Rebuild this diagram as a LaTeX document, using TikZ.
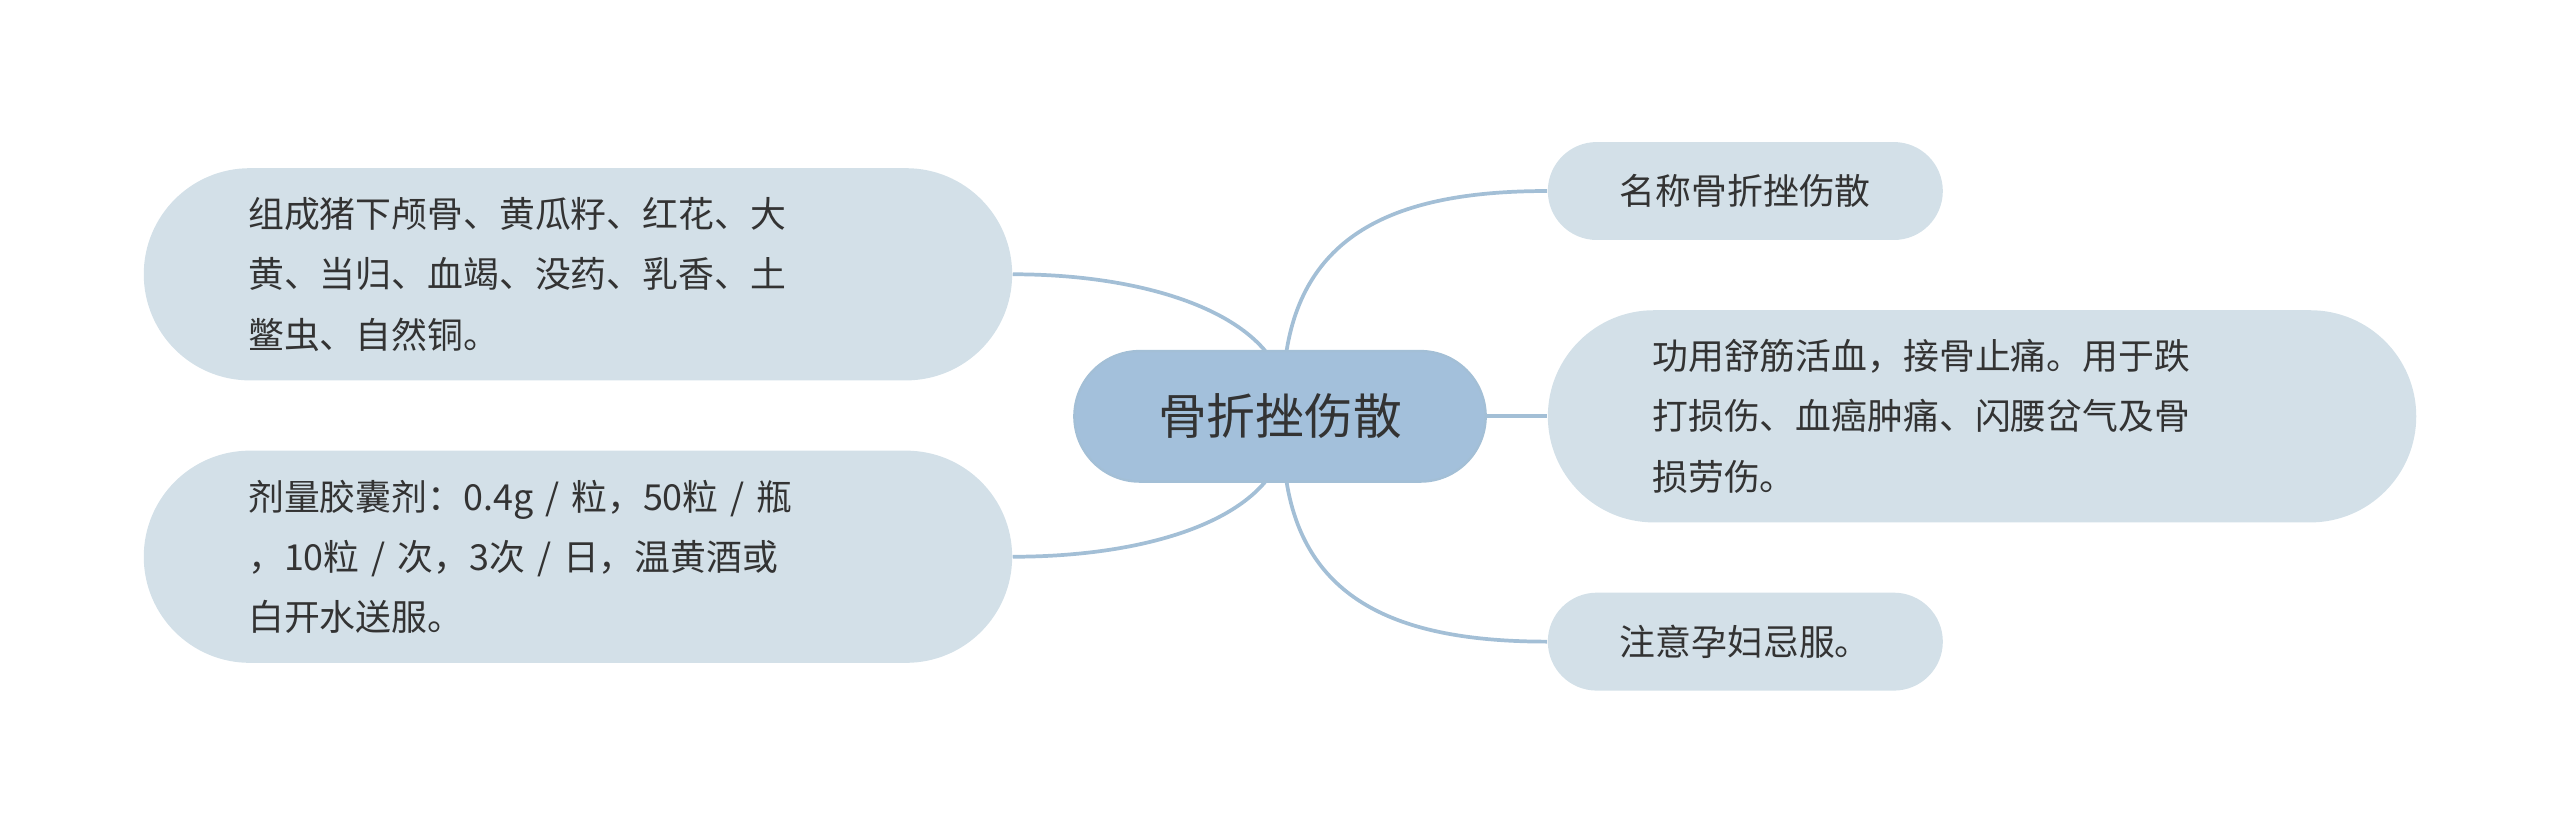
\documentclass[tikz,border=0pt]{standalone}
\usepackage{fontspec}
\setmainfont{Noto Sans CJK SC}
\definecolor{leaffill}{HTML}{D3E0E8}
\definecolor{rootfill}{HTML}{A3C0DB}
\definecolor{linkcol}{HTML}{A3BFD6}
\definecolor{txt}{HTML}{333333}
\begin{document}
\begin{tikzpicture}[x=0.02cm,y=-0.02cm,
  leaf/.style={fill=leaffill, text=txt, font=\fontsize{12.5}{21}\selectfont, align=left, inner sep=0pt},
  link/.style={draw=linkcol, line width=1.3pt}]
\useasboundingbox (0,0) rectangle (1568,510);

\node[fill=rootfill, draw=linkcol, line width=0.8pt, rounded corners=0.8cm, minimum width=5.04cm, minimum height=1.6cm, text=txt, font=\fontsize{17}{20}\selectfont] (root) at (784,255) {骨折挫伤散};

\node[leaf, rounded corners=1.3cm, minimum width=10.64cm, minimum height=2.6cm, text width=10.64cm-2.56cm] (comp) at (354,168)
 {组成猪下颅骨、黄瓜籽、红花、大\\黄、当归、血竭、没药、乳香、土\\鳖虫、自然铜。};
\node[leaf, rounded corners=1.3cm, minimum width=10.64cm, minimum height=2.6cm, text width=10.64cm-2.56cm] (dose) at (354,341)
 {剂量胶囊剂：0.4g / 粒，50粒 / 瓶\\，10粒 / 次，3次 / 日，温黄酒或\\白开水送服。};
\node[leaf, rounded corners=0.6cm, minimum width=4.84cm, minimum height=1.2cm, align=center] (name) at (1069,117) {名称骨折挫伤散};
\node[leaf, rounded corners=1.3cm, minimum width=10.64cm, minimum height=2.6cm, text width=10.64cm-2.56cm] (use) at (1214,255)
 {功用舒筋活血，接骨止痛。用于跌\\打损伤、血癌肿痛、闪腰岔气及骨\\损劳伤。};
\node[leaf, rounded corners=0.6cm, minimum width=4.84cm, minimum height=1.2cm, align=center] (note) at (1069,393) {注意孕妇忌服。};

% connectors
\draw[link] (788,215) .. controls (800,140) and (860,117) .. (name.west);
\draw[link] (root.east) -- (use.west);
\draw[link] (788,295) .. controls (800,370) and (860,393) .. (note.west);
\draw[link] (775,215) .. controls (750,185) and (690,168) .. (comp.east);
\draw[link] (775,295) .. controls (750,325) and (690,341) .. (dose.east);
\end{tikzpicture}
\end{document}
